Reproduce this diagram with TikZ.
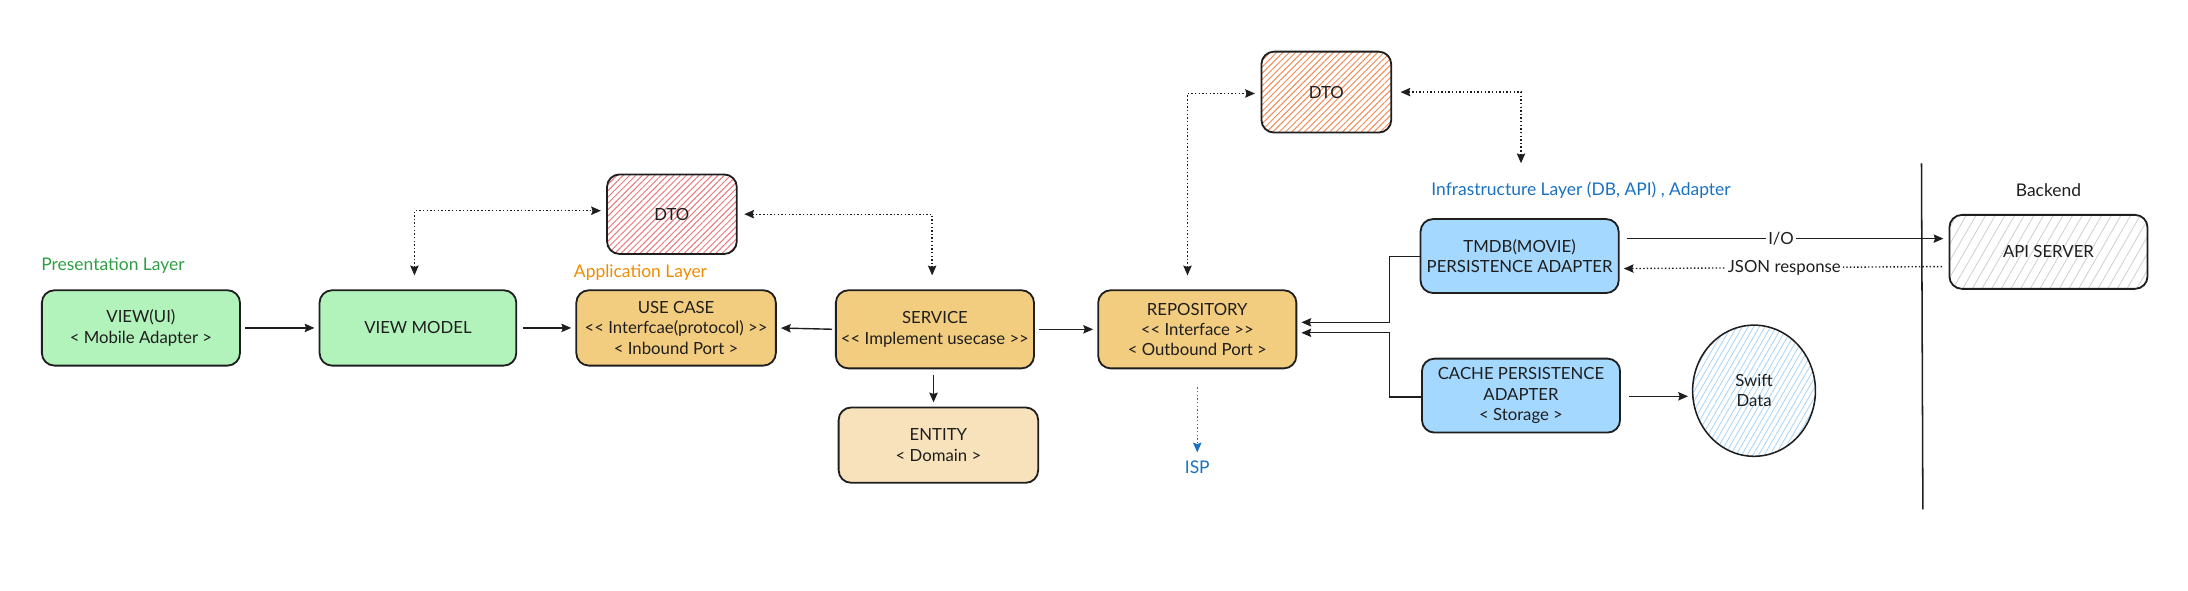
\documentclass[tikz,border=0pt]{standalone}
\usepackage{fontspec}
\setmainfont{Lato}
\usetikzlibrary{arrows.meta,patterns.meta,calc,shapes.geometric}
\definecolor{gfill}{HTML}{B2F2BB}
\definecolor{ofill}{HTML}{F3CD7F}
\definecolor{efill}{HTML}{F8E2BB}
\definecolor{bfill}{HTML}{A5D8FF}
\definecolor{gtext}{HTML}{2F9E44}
\definecolor{otext}{HTML}{F08C00}
\definecolor{btext}{HTML}{1971C2}
\definecolor{ink}{HTML}{1E1E1E}
\definecolor{hred}{HTML}{E8787A}
\definecolor{horange}{HTML}{EE8A55}
\definecolor{hblue}{HTML}{A9D4F5}
\definecolor{hgray}{HTML}{D0D0D0}
\tikzset{
  box/.style={draw=ink, line width=1.3pt, rounded corners=9pt, align=center,
    font=\fontsize{12}{14.5}\selectfont, text=ink, inner sep=2pt},
  boxtext/.style={font=\fontsize{12}{14.5}\selectfont, text=ink, align=center},
  layerlabel/.style={font=\fontsize{12.5}{14}\selectfont, inner sep=1pt},
  tip/.style={-{Stealth[length=7pt,width=6pt,inset=1pt]}},
  flow/.style={draw=ink, line width=1pt, tip},
  thinflow/.style={draw=ink, line width=0.8pt, tip},
  dotflow/.style={draw=ink, line width=1pt, dash pattern=on 1pt off 1.6pt,
    {Stealth[length=7pt,width=6pt,inset=1pt]}-{Stealth[length=7pt,width=6pt,inset=1pt]}},
  edgelabel/.style={font=\fontsize{12}{14}\selectfont, fill=white, inner sep=1.5pt, text=ink},
}
\begin{document}
\begin{tikzpicture}[x=1pt,y=-1pt]
\useasboundingbox (0,0) rectangle (1568,423);

% boxes
\node[box, fill=gfill, minimum width=142pt, minimum height=54pt] (view) at (101,235) {VIEW(UI)\\<{} Mobile Adapter >{}};
\node[box, fill=gfill, minimum width=141pt, minimum height=54pt] (vm) at (299.5,235) {VIEW MODEL};
\node[box, fill=ofill, minimum width=143pt, minimum height=54pt] (uc) at (484.5,235) {USE CASE\\<{}<{} Interfcae(protocol) >{}>{}\\<{} Inbound Port >{}};
\node[box, fill=ofill, minimum width=142pt, minimum height=56pt] (svc) at (670,236) {SERVICE\\<{}<{} Implement usecase >{}>{}};
\node[box, fill=efill, minimum width=143pt, minimum height=54pt] (ent) at (672.5,319) {ENTITY\\<{} Domain >{}};
\node[box, fill=ofill, minimum width=142pt, minimum height=56pt] (repo) at (858,236) {REPOSITORY\\<{}<{} Interface >{}>{}\\<{} Outbound Port >{}};
\node[box, pattern={Lines[angle=45,distance=3.2pt,line width=0.7pt]}, pattern color=hred,
      minimum width=93pt, minimum height=57pt] (dto1) at (481.5,153.5) {};
\node[boxtext] at (dto1) {DTO};
\node[box, pattern={Lines[angle=45,distance=3.2pt,line width=0.7pt]}, pattern color=horange,
      minimum width=93pt, minimum height=58pt] (dto2) at (950.5,66) {};
\node[boxtext] at (dto2) {DTO};
\node[box, fill=bfill, minimum width=142pt, minimum height=53pt] (tmdb) at (1089,183.5) {TMDB(MOVIE)\\PERSISTENCE ADAPTER};
\node[box, fill=bfill, minimum width=142pt, minimum height=53pt] (cache) at (1090,283.5) {CACHE PERSISTENCE\\ADAPTER\\<{} Storage >{}};
\node[draw=ink, line width=1.1pt, ellipse, pattern={Lines[angle=60,distance=3.5pt,line width=0.6pt]}, pattern color=hblue,
      minimum width=88pt, minimum height=94pt, inner sep=0pt] (swift) at (1257,280) {};
\node[boxtext] at (swift) {Swift\\Data};
\node[box, pattern={Lines[angle=60,distance=6pt,line width=0.6pt]}, pattern color=hgray,
      minimum width=142pt, minimum height=53pt] (api) at (1468,180.5) {};
\node[boxtext] at (api) {API SERVER};

% labels
\node[layerlabel, text=gtext] (pres) at (81,190) {Presentation Layer};
\node[layerlabel, text=otext] (appl) at (459,195) {Application Layer};
\node[layerlabel, text=btext] (infra) at (1133,136) {Infrastructure Layer (DB, API) , Adapter};
\node[layerlabel, text=ink] (backend) at (1468,136) {Backend};
\node[layerlabel, text=btext] (isp) at (858,335) {ISP};

% separator
\coordinate (sepTop) at (1377,117);
\coordinate (sepBot) at (1378,365);
\draw[ink, line width=1.1pt] (sepTop) -- (sepBot);

% solid flows
\draw[flow, shorten <=3pt, shorten >=3pt] (view.east) -- (vm.west);
\draw[flow, shorten <=4pt, shorten >=3pt] (vm.east) -- (uc.west);
\draw[flow, shorten <=2pt, shorten >=3pt] (svc.west) -- (uc.east);
\draw[flow, shorten <=3pt, shorten >=3pt] (svc.east) -- (repo.west);
\draw[flow, shorten <=4pt, shorten >=3pt] ([xshift=-1pt]svc.south) -- ([xshift=-3.5pt]ent.north);
\draw[flow, shorten <=6pt, shorten >=3pt] ([yshift=-0.5pt]cache.east) -- ([yshift=-0.5pt]cache.east -| swift.west);

% adapters into repository
\coordinate (tmdbBend) at (996,184);
\coordinate (cacheBend) at (996,284.5);
\draw[thinflow, shorten >=3pt] ([yshift=-0.5pt]tmdb.west) -- (tmdbBend) |- ([yshift=5pt]repo.east);
\draw[thinflow, shorten >=3pt] ([yshift=-1pt]cache.west) -- (cacheBend) |- ([yshift=-2.5pt]repo.east);

% I/O and JSON response
\draw[flow, shorten <=5pt, shorten >=4pt] ([yshift=12.5pt]tmdb.east) -- ([yshift=9.5pt]api.west)
  node[edgelabel, pos=0.49] {I/O};
\draw[draw=ink, line width=1pt, dash pattern=on 1pt off 1.6pt, tip, shorten <=5pt, shorten >=3pt]
  ([yshift=-10.5pt]api.west) -- ([yshift=-9pt]tmdb.east) node[edgelabel, pos=0.5] {JSON response};

% dotted DTO links
\draw[dotflow, shorten <=10pt, shorten >=4pt] ([xshift=-2.5pt]vm.north) |- ([yshift=2.5pt]dto1.west);
\draw[dotflow, shorten <=5pt, shorten >=10pt] (dto1.east) -| ([xshift=-2pt]svc.north);
\draw[dotflow, shorten <=10pt, shorten >=4pt] ([xshift=-7pt]repo.north) |- ([yshift=-1pt]dto2.west);
\coordinate (infraTop) at (1090,117);
\draw[dotflow, shorten <=6pt] (dto2.east) -| (infraTop);

% ISP
\draw[draw=btext, line width=1pt, dash pattern=on 1pt off 1.6pt, tip, shorten <=13pt, shorten >=5pt]
  (repo.south) -- (isp.north);
\end{tikzpicture}
\end{document}
